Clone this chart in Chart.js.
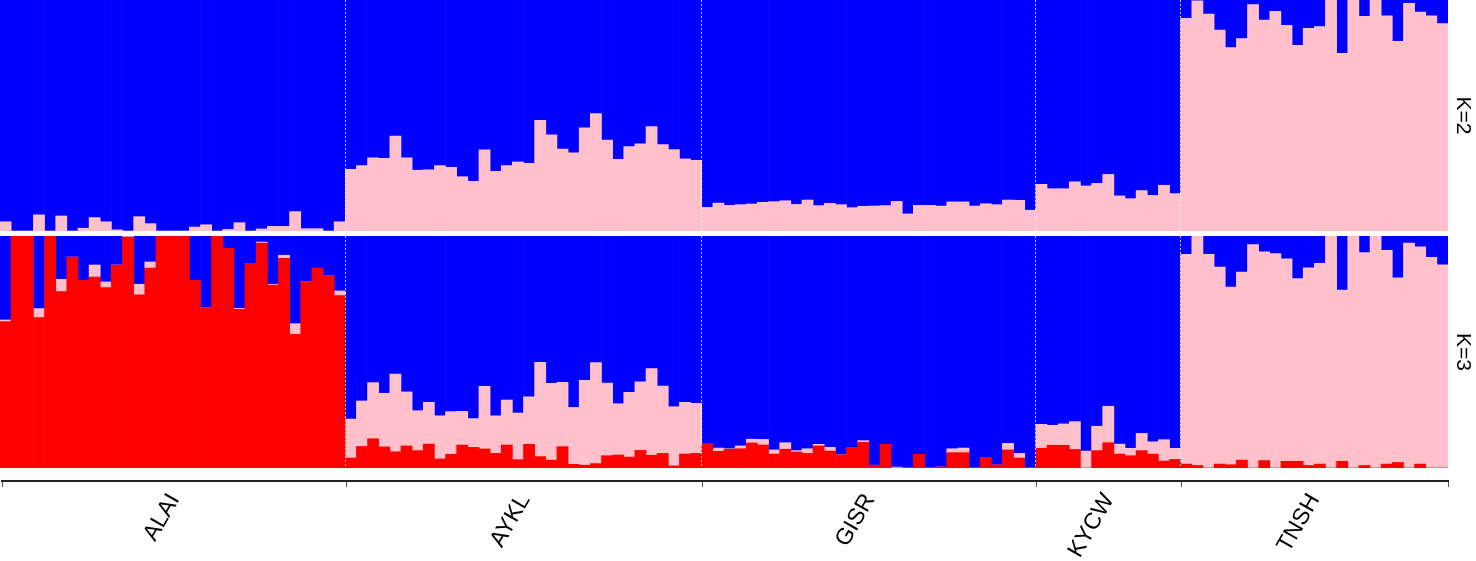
<!DOCTYPE html>
<html lang="en">
<head>
    <meta charset="UTF-8">
    <title>Structure plot K=2 / K=3</title>
    <script src="https://cdn.jsdelivr.net/npm/chart.js"></script>
    <style>
        body {
            margin: 0;
            background: #ffffff;
            width: 1476px;
            height: 561px;
            overflow: hidden;
            position: relative;
        }
        canvas {
            position: absolute;
            left: 0;
        }
        #k2Chart { top: 0; }
        #k3Chart { top: 236px; }
        #axisChart { top: 468px; }
    </style>
</head>
<body>
    <canvas id="k2Chart" width="1476" height="231"></canvas>
    <canvas id="k3Chart" width="1476" height="232"></canvas>
    <canvas id="axisChart" width="1476" height="93"></canvas>

    <script>
        // populations and number of individuals in each
        const populations = ['ALAI', 'AYKL', 'GISR', 'KYCW', 'TNSH'];
        const popSizes = [31, 32, 30, 13, 24];

        // K=2 membership (pink = cluster 1, blue = cluster 2)
        const k2PinkALAI = [0.04,0,0,0.07,0,0.065,0,0.012,0.058,0.04,0.005,0,0.062,0.032,0,0,0,0.017,0.027,0,0.007,0.036,0,0.009,0.02,0.02,0.084,0.01,0.01,0,0.04];
        const k2BlueALAI = [0.96,1,1,0.93,1,0.935,1,0.988,0.942,0.96,0.995,1,0.938,0.968,1,1,1,0.983,0.973,1,0.993,0.964,1,0.991,0.98,0.98,0.916,0.99,0.99,1,0.96];
        const k2PinkAYKL = [0.267,0.283,0.317,0.315,0.411,0.317,0.263,0.265,0.283,0.276,0.235,0.215,0.351,0.258,0.283,0.299,0.293,0.479,0.416,0.355,0.338,0.447,0.508,0.394,0.31,0.365,0.377,0.452,0.374,0.352,0.312,0.306];
        const k2BlueAYKL = [0.733,0.717,0.683,0.685,0.589,0.683,0.737,0.735,0.717,0.724,0.765,0.785,0.649,0.742,0.717,0.701,0.707,0.521,0.584,0.645,0.662,0.553,0.492,0.606,0.69,0.635,0.623,0.548,0.626,0.648,0.688,0.694];
        const k2PinkGISR = [0.102,0.121,0.111,0.114,0.117,0.124,0.127,0.131,0.115,0.134,0.11,0.12,0.114,0.101,0.107,0.108,0.11,0.128,0.074,0.111,0.111,0.108,0.126,0.126,0.108,0.118,0.114,0.134,0.133,0.09];
        const k2BlueGISR = [0.898,0.879,0.889,0.886,0.883,0.876,0.873,0.869,0.885,0.866,0.89,0.88,0.886,0.899,0.893,0.892,0.89,0.872,0.926,0.889,0.889,0.892,0.874,0.874,0.892,0.882,0.886,0.866,0.867,0.91];
        const k2PinkKYCW = [0.202,0.183,0.183,0.213,0.195,0.206,0.245,0.152,0.14,0.175,0.154,0.198,0.162];
        const k2BlueKYCW = [0.798,0.817,0.817,0.787,0.805,0.794,0.755,0.848,0.86,0.825,0.846,0.802,0.838];
        const k2PinkTNSH = [0.921,0.996,0.939,0.87,0.794,0.833,0.98,0.913,0.951,0.89,0.804,0.877,0.885,1,0.769,1,0.929,1,0.931,0.821,0.986,0.948,0.931,0.898];
        const k2BlueTNSH = [0.079,0.004,0.061,0.13,0.206,0.167,0.02,0.087,0.049,0.11,0.196,0.123,0.115,0,0.231,0,0.071,0,0.069,0.179,0.014,0.052,0.069,0.102];

        // K=3 membership (red, pink, blue)
        const k3RedALAI = [0.631,1,1,0.648,1,0.76,0.909,0.809,0.823,0.778,0.875,0.995,0.746,0.862,1,1,1,0.809,0.691,1,0.947,0.684,0.882,0.97,0.788,0.904,0.576,0.803,0.861,0.828,0.743];
        const k3PinkALAI = [0.007,0,0,0.039,0,0.053,0,0,0.052,0.024,0,0.005,0.046,0.026,0,0,0,0,0,0,0,0.004,0,0.004,0.004,0.013,0.046,0,0,0,0.02];
        const k3BlueALAI = [0.362,0,0,0.313,0,0.187,0.091,0.191,0.125,0.198,0.125,0,0.208,0.112,0,0,0,0.191,0.309,0,0.053,0.312,0.118,0.026,0.208,0.083,0.378,0.197,0.139,0.172,0.237];
        const k3RedAYKL = [0.043,0.093,0.126,0.091,0.07,0.095,0.075,0.103,0.039,0.059,0.099,0.089,0.082,0.063,0.099,0.036,0.102,0.049,0.034,0.092,0.016,0.012,0.019,0.053,0.056,0.047,0.076,0.055,0.063,0.009,0.06,0.063];
        const k3PinkAYKL = [0.168,0.196,0.242,0.231,0.335,0.233,0.172,0.18,0.186,0.184,0.145,0.124,0.27,0.162,0.194,0.201,0.205,0.406,0.331,0.277,0.245,0.366,0.435,0.313,0.221,0.279,0.295,0.373,0.29,0.255,0.223,0.216];
        const k3BlueAYKL = [0.789,0.711,0.632,0.678,0.595,0.672,0.753,0.717,0.775,0.757,0.756,0.787,0.648,0.775,0.707,0.763,0.693,0.545,0.635,0.631,0.739,0.622,0.546,0.634,0.723,0.674,0.629,0.572,0.647,0.736,0.717,0.721];
        const k3RedGISR = [0.103,0.072,0.081,0.083,0.108,0.099,0.06,0.081,0.069,0.063,0.095,0.073,0.057,0.086,0.111,0.012,0.102,0,0,0.059,0,0.004,0.066,0.066,0,0.046,0.013,0.078,0.043,0];
        const k3PinkGISR = [0,0.014,0.002,0.012,0.016,0.024,0.018,0.028,0.006,0.02,0.007,0.016,0,0,0.007,0,0,0.004,0,0,0,0,0.017,0.02,0,0,0,0.028,0.02,0];
        const k3BlueGISR = [0.897,0.914,0.917,0.905,0.876,0.877,0.922,0.891,0.925,0.917,0.898,0.911,0.943,0.914,0.882,0.988,0.898,0.996,1,0.941,1,0.996,0.917,0.914,1,0.954,0.987,0.894,0.937,1];
        const k3RedKYCW = [0.085,0.098,0.098,0.08,0,0.075,0.109,0.06,0.053,0.075,0.06,0.03,0.037];
        const k3PinkKYCW = [0.103,0.086,0.092,0.12,0.073,0.105,0.157,0.043,0.032,0.074,0.053,0.092,0.048];
        const k3BlueKYCW = [0.812,0.816,0.81,0.8,0.927,0.82,0.734,0.897,0.915,0.851,0.887,0.878,0.915];
        const k3RedTNSH = [0.017,0.011,0,0.017,0.014,0.034,0,0.032,0,0.029,0.029,0.011,0.017,0,0.029,0,0.011,0,0.017,0.024,0,0.017,0,0];
        const k3PinkTNSH = [0.904,0.989,0.921,0.849,0.766,0.811,0.963,0.9,0.924,0.873,0.787,0.852,0.865,1,0.738,1,0.917,1,0.921,0.796,0.97,0.936,0.908,0.876];
        const k3BlueTNSH = [0.079,0,0.079,0.134,0.22,0.155,0.037,0.068,0.076,0.098,0.184,0.137,0.118,0,0.233,0,0.072,0,0.062,0.18,0.03,0.047,0.092,0.124];

        const k2Pink = [].concat(k2PinkALAI, k2PinkAYKL, k2PinkGISR, k2PinkKYCW, k2PinkTNSH);
        const k2Blue = [].concat(k2BlueALAI, k2BlueAYKL, k2BlueGISR, k2BlueKYCW, k2BlueTNSH);
        const k3Red = [].concat(k3RedALAI, k3RedAYKL, k3RedGISR, k3RedKYCW, k3RedTNSH);
        const k3Pink = [].concat(k3PinkALAI, k3PinkAYKL, k3PinkGISR, k3PinkKYCW, k3PinkTNSH);
        const k3Blue = [].concat(k3BlueALAI, k3BlueAYKL, k3BlueGISR, k3BlueKYCW, k3BlueTNSH);

        const BLUE = '#0000ff';
        const PINK = '#ffc0cb';
        const RED = '#ff0000';

        Chart.defaults.font.family = '"Liberation Sans", Arial, sans-serif';
        Chart.defaults.color = '#000';

        // individual labels + group boundaries (index where each population starts)
        const individuals = [];
        const boundaries = [0];
        populations.forEach((pop, p) => {
            for (let i = 0; i < popSizes[p]; i++) individuals.push(pop + '_' + (i + 1));
            boundaries.push(boundaries[boundaries.length - 1] + popSizes[p]);
        });
        const innerBounds = boundaries.slice(1, -1);
        const total = individuals.length;
        const centers = populations.map((p, i) => (boundaries[i] + boundaries[i + 1]) / 2);

        function panelOptions(title) {
            return {
                responsive: false,
                animation: false,
                layout: { padding: 0 },
                plugins: { legend: { display: false }, tooltip: { enabled: false } },
                datasets: { bar: { barPercentage: 1, categoryPercentage: 1, borderWidth: 0 } },
                scales: {
                    x: {
                        stacked: true,
                        ticks: { display: false },
                        border: { display: false, dash: [2, 2] },
                        grid: {
                            z: 1,   // dotted separators drawn over the bars
                            drawTicks: false,
                            lineWidth: 1,
                            color: c => innerBounds.includes(c.index) ? 'rgba(255,255,255,0.8)' : 'rgba(0,0,0,0)'
                        }
                    },
                    y: {
                        stacked: true,
                        min: 0,
                        max: 1,
                        position: 'right',
                        ticks: { display: false },
                        grid: { display: false, drawTicks: false },
                        border: { display: false },
                        title: {
                            display: true,
                            text: title,
                            color: '#000',
                            font: { size: 21 },
                            padding: { top: 1, bottom: 0 }
                        },
                        afterFit: scale => { scale.width = 28; }
                    }
                }
            };
        }

        new Chart(document.getElementById('k2Chart'), {
            type: 'bar',
            data: {
                labels: individuals,
                datasets: [
                    { label: 'cluster 1', data: k2Pink, backgroundColor: PINK },
                    { label: 'cluster 2', data: k2Blue, backgroundColor: BLUE }
                ]
            },
            options: panelOptions('K=2')
        });

        new Chart(document.getElementById('k3Chart'), {
            type: 'bar',
            data: {
                labels: individuals,
                datasets: [
                    { label: 'cluster 3', data: k3Red, backgroundColor: RED },
                    { label: 'cluster 1', data: k3Pink, backgroundColor: PINK },
                    { label: 'cluster 2', data: k3Blue, backgroundColor: BLUE }
                ]
            },
            options: panelOptions('K=3')
        });

        // population axis below the panels
        const axisTicks = boundaries.concat(centers).sort((a, b) => a - b);
        new Chart(document.getElementById('axisChart'), {
            type: 'scatter',
            data: { datasets: [] },
            options: {
                responsive: false,
                animation: false,
                layout: { padding: { left: 0, right: 28, top: 0, bottom: 0 } },
                plugins: { legend: { display: false }, tooltip: { enabled: false } },
                scales: {
                    x: {
                        type: 'linear',
                        min: 0,
                        max: total,
                        afterBuildTicks: scale => { scale.ticks = axisTicks.map(v => ({ value: v })); },
                        afterFit: scale => { scale.height = 80; },
                        ticks: {
                            autoSkip: false,
                            maxRotation: 60,
                            minRotation: 60,
                            padding: 2,
                            color: '#000',
                            font: { size: 23 },
                            callback: v => {
                                const i = centers.indexOf(v);
                                return i >= 0 ? populations[i] : '';
                            }
                        },
                        grid: {
                            drawOnChartArea: false,
                            drawTicks: true,
                            tickLength: 6,
                            tickWidth: 1,
                            tickColor: c => boundaries.includes(c.tick && c.tick.value) ? '#555' : 'rgba(0,0,0,0)'
                        },
                        border: { display: true, color: '#222', width: 2 }
                    },
                    y: { display: false }
                }
            }
        });
    </script>
</body>
</html>
